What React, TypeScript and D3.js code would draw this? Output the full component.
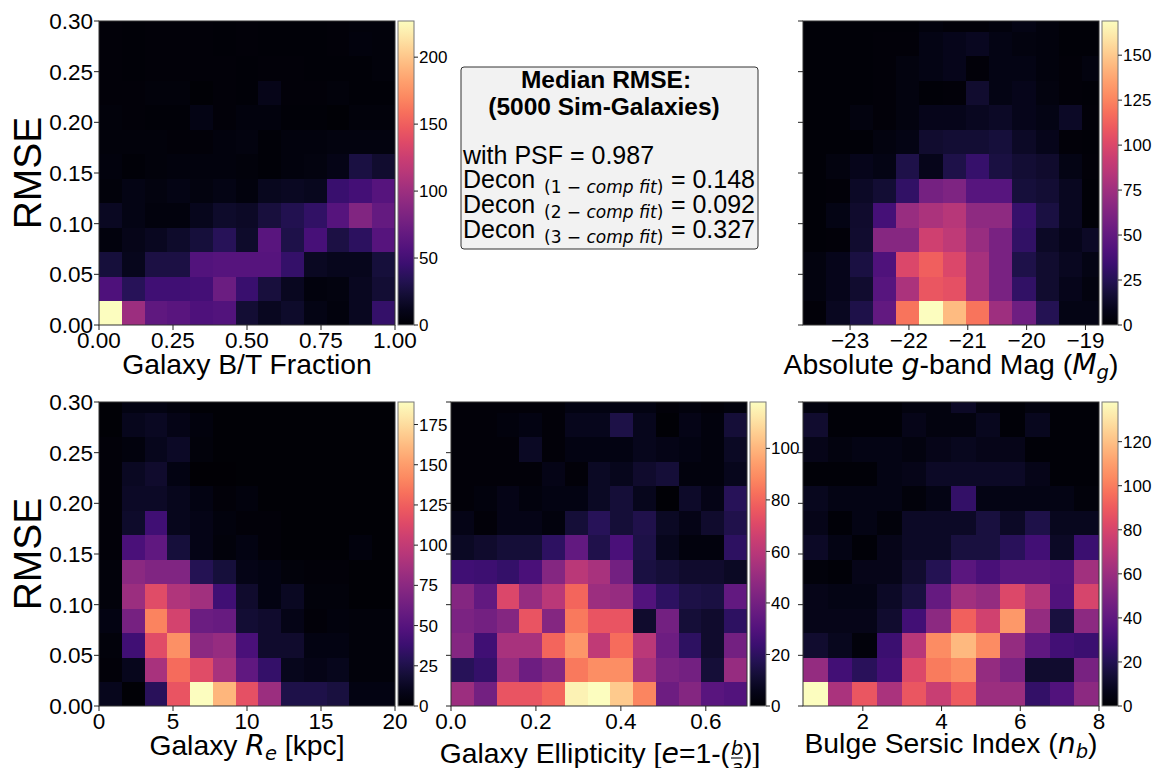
import React from 'react';
import * as d3 from 'd3';

// ---------- Data (rows listed bottom -> top, 13 RMSE bins of width 0.02418) ----------
const rmseBinWidth = 0.02418;
const rmseTicks = [0, 0.05, 0.1, 0.15, 0.2, 0.25, 0.3];
const rmseTickLabels = ['0.00', '0.05', '0.10', '0.15', '0.20', '0.25', '0.30'];

// Galaxy B/T fraction: 13 bins over [0, 1]
const btCounts = [
  [227, 100, 65, 62, 55, 58, 22, 14, 18, 8, 6, 14, 42],
  [55, 35, 48, 48, 50, 72, 45, 25, 14, 6, 7, 14, 22],
  [24, 12, 28, 28, 58, 60, 60, 60, 42, 15, 12, 12, 24],
  [6, 10, 14, 18, 24, 35, 18, 62, 30, 52, 28, 38, 60],
  [15, 8, 6, 6, 12, 18, 16, 25, 32, 40, 60, 85, 68],
  [5, 8, 7, 8, 7, 8, 6, 13, 15, 13, 45, 50, 60],
  [6, 3, 5, 6, 6, 6, 5, 3, 6, 7, 9, 27, 20],
  [5, 5, 5, 4, 4, 6, 7, 3, 6, 6, 7, 7, 7],
  [5, 4, 3, 3, 8, 4, 6, 6, 3, 3, 2, 5, 5],
  [4, 4, 5, 5, 2, 4, 3, 10, 4, 4, 5, 3, 3],
  [4, 3, 4, 4, 4, 4, 3, 4, 4, 3, 3, 3, 5],
  [4, 3, 4, 4, 4, 3, 4, 3, 3, 3, 4, 6, 5],
  [4, 3, 4, 4, 4, 3, 4, 3, 3, 3, 4, 5, 5],
];
const btTicks = [0, 0.25, 0.5, 0.75, 1.0];
const btTickLabels = ['0.00', '0.25', '0.50', '0.75', '1.00'];
const btCbTicks = [0, 50, 100, 150, 200];

// Absolute g-band magnitude: bins of 0.3955 mag starting at -23.80
const magCounts = [
  [3, 10, 22, 50, 120, 169, 145, 120, 75, 55, 25, 6, 6],
  [5, 8, 15, 45, 80, 108, 105, 78, 60, 30, 15, 8, 5],
  [5, 8, 20, 42, 100, 112, 100, 78, 60, 22, 15, 10, 6],
  [2, 3, 15, 65, 65, 95, 88, 72, 60, 30, 12, 8, 12],
  [2, 6, 14, 38, 72, 80, 85, 68, 68, 32, 20, 10, 2],
  [2, 3, 12, 16, 30, 58, 62, 45, 45, 18, 16, 10, 2],
  [2, 5, 8, 6, 22, 8, 22, 32, 20, 16, 14, 6, 3],
  [2, 2, 2, 5, 6, 15, 16, 16, 18, 12, 8, 3, 2],
  [2, 2, 5, 3, 5, 8, 8, 10, 12, 8, 6, 12, 3],
  [2, 2, 2, 3, 5, 2, 3, 15, 6, 8, 5, 3, 2],
  [2, 2, 2, 3, 5, 6, 8, 3, 6, 6, 4, 3, 5],
  [2, 2, 2, 3, 3, 6, 8, 10, 6, 5, 4, 2, 2],
  [2, 2, 2, 2, 2, 4, 3, 3, 4, 6, 4, 2, 2],
];
const magTicks = [-23, -22, -21, -20, -19];
const magTickLabels = ['\u221223', '\u221222', '\u221221', '\u221220', '\u221219'];
const magCbTicks = [0, 25, 50, 75, 100, 125, 150];

// Galaxy Re [kpc]: 13 bins over [0, 20]
const reCounts = [
  [10, 2, 30, 120, 189, 160, 118, 82, 25, 25, 22, 6, 6],
  [3, 10, 88, 130, 115, 88, 55, 35, 10, 8, 10, 4, 4],
  [4, 40, 115, 145, 75, 80, 45, 16, 16, 6, 6, 4, 4],
  [6, 65, 140, 108, 60, 58, 18, 16, 8, 3, 5, 4, 4],
  [4, 82, 115, 92, 85, 40, 16, 6, 12, 4, 4, 2, 2],
  [4, 75, 70, 70, 28, 20, 8, 6, 4, 3, 3, 2, 2],
  [3, 45, 55, 20, 8, 4, 6, 3, 2, 2, 2, 5, 2],
  [3, 15, 40, 10, 8, 5, 3, 3, 2, 2, 2, 2, 2],
  [3, 14, 14, 10, 6, 3, 5, 2, 2, 2, 2, 2, 2],
  [3, 12, 16, 6, 1, 1, 2, 2, 2, 2, 2, 2, 2],
  [3, 5, 10, 14, 4, 2, 2, 2, 2, 2, 2, 2, 2],
  [2, 10, 12, 8, 5, 2, 2, 2, 2, 2, 2, 2, 2],
  [2, 6, 6, 5, 2, 2, 2, 2, 2, 2, 2, 2, 2],
];
const reTicks = [0, 5, 10, 15, 20];
const reTickLabels = ['0', '5', '10', '15', '20'];
const reCbTicks = [0, 25, 50, 75, 100, 125, 150, 175];

// Galaxy ellipticity: 13 bins over [0, 0.697]
const ellCounts = [
  [52, 40, 75, 75, 80, 115, 118, 105, 88, 38, 45, 32, 30],
  [18, 22, 50, 38, 45, 85, 90, 90, 55, 42, 40, 12, 50],
  [45, 25, 55, 55, 80, 92, 62, 82, 60, 38, 20, 10, 40],
  [42, 40, 45, 75, 45, 85, 75, 75, 10, 40, 12, 10, 20],
  [45, 35, 70, 50, 60, 80, 52, 50, 30, 20, 15, 14, 35],
  [25, 24, 22, 28, 45, 60, 55, 40, 14, 12, 10, 10, 8],
  [8, 10, 12, 12, 20, 35, 16, 28, 15, 6, 3, 3, 20],
  [5, 2, 5, 5, 3, 12, 18, 12, 16, 8, 5, 10, 16],
  [2, 3, 5, 3, 4, 4, 8, 12, 6, 1, 9, 5, 18],
  [2, 2, 2, 2, 5, 2, 8, 6, 10, 12, 3, 3, 6],
  [2, 2, 2, 8, 2, 4, 4, 4, 6, 5, 4, 3, 8],
  [2, 2, 3, 4, 2, 6, 6, 15, 6, 1, 5, 3, 12],
  [2, 2, 2, 2, 2, 4, 4, 4, 4, 2, 3, 2, 3],
];
const ellTicks = [0, 0.2, 0.4, 0.6];
const ellTickLabels = ['0.0', '0.2', '0.4', '0.6'];
const ellCbTicks = [0, 20, 40, 60, 80, 100];

// Bulge Sersic index: 12 bins over [0.48, 8.0]
const nbCounts = [
  [138, 65, 88, 65, 88, 75, 90, 60, 60, 25, 35, 55],
  [58, 30, 22, 30, 82, 100, 105, 58, 50, 12, 12, 48],
  [12, 8, 3, 28, 70, 105, 118, 105, 58, 40, 30, 28],
  [6, 6, 6, 12, 30, 55, 92, 78, 108, 58, 16, 55],
  [6, 5, 5, 10, 16, 42, 62, 58, 82, 68, 35, 80],
  [3, 2, 6, 6, 12, 20, 38, 32, 38, 38, 36, 62],
  [10, 5, 2, 6, 10, 10, 16, 16, 22, 30, 10, 28],
  [6, 2, 5, 3, 10, 10, 10, 16, 10, 18, 8, 8],
  [8, 5, 5, 5, 3, 5, 25, 5, 5, 5, 5, 3],
  [2, 2, 2, 5, 6, 10, 10, 10, 10, 6, 2, 2],
  [6, 4, 5, 5, 4, 6, 8, 6, 6, 2, 2, 2],
  [12, 2, 2, 2, 6, 4, 4, 8, 2, 8, 2, 2],
  [4, 2, 2, 2, 4, 4, 10, 4, 2, 4, 2, 2],
];
const nbTicks = [2, 4, 6, 8];
const nbTickLabels = ['2', '4', '6', '8'];
const nbCbTicks = [0, 20, 40, 60, 80, 100, 120];

const boxTitle = ['Median RMSE:', '(5000 Sim-Galaxies)'];
const psfValue = '0.987';
const deconFits = ['1', '2', '3'];
const deconValues = ['0.148', '0.092', '0.327'];

// ---------- Styling / layout ----------
const SANS = '"Liberation Sans", Arial, Helvetica, sans-serif';
const MATH = '"DejaVu Sans", sans-serif';
const PW = 296;
const PH = 304;
const TICK_FS = 22.5;
const LABEL_FS = 28.3;
const SUB_FS = 19.5;

interface PanelDef {
  id: string;
  counts: number[][];
  xDomain: [number, number];
  xStart: number;
  xStep: number;
  ticks: number[];
  tickLabels: string[];
  cbTicks: number[];
  left: number;
  top: number;
  yLabels: boolean;
  rmseLabel: boolean;
  label: React.ReactNode;
  labelBaseline: number;
}

const TOP1 = 21;
const TOP2 = 402;

const panels: PanelDef[] = [
  {
    id: 'bt', counts: btCounts, xDomain: [0, 1], xStart: 0, xStep: 1 / 13,
    ticks: btTicks, tickLabels: btTickLabels, cbTicks: btCbTicks,
    left: 99, top: TOP1, yLabels: true, rmseLabel: true, labelBaseline: 374,
    label: <tspan>Galaxy B/T Fraction</tspan>,
  },
  {
    id: 'mag', counts: magCounts, xDomain: [-23.8, -18.77], xStart: -23.8, xStep: 0.3955,
    ticks: magTicks, tickLabels: magTickLabels, cbTicks: magCbTicks,
    left: 803, top: TOP1, yLabels: false, rmseLabel: false, labelBaseline: 374,
    label: (
      <>
        <tspan>Absolute </tspan>
        <tspan fontFamily={MATH} fontStyle="italic">g</tspan>
        <tspan>-band Mag (</tspan>
        <tspan fontFamily={MATH} fontStyle="italic">M</tspan>
        <tspan fontFamily={MATH} fontStyle="italic" fontSize={SUB_FS} dy="5">g</tspan>
        <tspan dy="-5">)</tspan>
      </>
    ),
  },
  {
    id: 're', counts: reCounts, xDomain: [0, 20], xStart: 0, xStep: 20 / 13,
    ticks: reTicks, tickLabels: reTickLabels, cbTicks: reCbTicks,
    left: 99, top: TOP2, yLabels: true, rmseLabel: true, labelBaseline: 755,
    label: (
      <>
        <tspan>Galaxy </tspan>
        <tspan fontFamily={MATH} fontStyle="italic">R</tspan>
        <tspan fontFamily={MATH} fontStyle="italic" fontSize={SUB_FS} dy="5">e</tspan>
        <tspan dy="-5"> [kpc]</tspan>
      </>
    ),
  },
  {
    id: 'ell', counts: ellCounts, xDomain: [0, 0.697], xStart: 0, xStep: 0.697 / 13,
    ticks: ellTicks, tickLabels: ellTickLabels, cbTicks: ellCbTicks,
    left: 451, top: TOP2, yLabels: false, rmseLabel: false, labelBaseline: 763,
    label: null,
  },
  {
    id: 'nb', counts: nbCounts, xDomain: [0.48, 8.0], xStart: 0.48, xStep: (8.0 - 0.48) / 12,
    ticks: nbTicks, tickLabels: nbTickLabels, cbTicks: nbCbTicks,
    left: 803, top: TOP2, yLabels: false, rmseLabel: false, labelBaseline: 753,
    label: (
      <>
        <tspan>Bulge Sersic Index (</tspan>
        <tspan fontFamily={MATH} fontStyle="italic">n</tspan>
        <tspan fontFamily={MATH} fontStyle="italic" fontSize={SUB_FS} dy="5">b</tspan>
        <tspan dy="-5">)</tspan>
      </>
    ),
  },
];

const magmaStops = d3.range(0, 1.0001, 0.05);

function Panel({ p }: { p: PanelDef }) {
  const x = d3.scaleLinear().domain(p.xDomain).range([p.left, p.left + PW]);
  const y = d3.scaleLinear().domain([0, 0.3]).range([p.top + PH, p.top]);
  const vmax = d3.max(p.counts.flat()) as number;
  const color = (v: number) => d3.interpolateMagma(v / vmax);
  const cbX = p.left + PW + 3;
  const cbW = 16;
  const cbScale = d3.scaleLinear().domain([0, vmax]).range([p.top + PH, p.top]);
  const bottom = p.top + PH;
  const clipId = `clip-${p.id}`;
  const gradId = `grad-${p.id}`;
  const cells: React.ReactNode[] = [];
  p.counts.forEach((row, ri) => {
    row.forEach((v, ci) => {
      const x0 = x(p.xStart + ci * p.xStep);
      const x1 = x(p.xStart + (ci + 1) * p.xStep);
      const y0 = y(ri * rmseBinWidth);
      const y1 = y((ri + 1) * rmseBinWidth);
      cells.push(
        <rect key={`${ri}-${ci}`} x={x0} y={y1} width={x1 - x0 + 0.6} height={y0 - y1 + 0.6} fill={color(v)} />
      );
    });
  });
  return (
    <g>
      <defs>
        <clipPath id={clipId}>
          <rect x={p.left} y={p.top} width={PW} height={PH} />
        </clipPath>
        <linearGradient id={gradId} x1="0" y1="1" x2="0" y2="0">
          {magmaStops.map((t) => (
            <stop key={t} offset={t} stopColor={d3.interpolateMagma(t)} />
          ))}
        </linearGradient>
      </defs>
      <g clipPath={`url(#${clipId})`} shapeRendering="crispEdges">{cells}</g>
      <rect x={p.left} y={p.top} width={PW} height={PH} fill="none" stroke="#333" strokeWidth={1} />
      {/* y ticks */}
      {rmseTicks.map((t, i) => (
        <g key={`yt${i}`}>
          <line x1={p.left - 5} x2={p.left} y1={y(t)} y2={y(t)} stroke="#222" strokeWidth={1} />
          {p.yLabels && (
            <text x={p.left - 6} y={y(t)} dy="0.36em" textAnchor="end" fontFamily={SANS} fontSize={TICK_FS} fill="#000">
              {rmseTickLabels[i]}
            </text>
          )}
        </g>
      ))}
      {/* x ticks */}
      {p.ticks.map((t, i) => (
        <g key={`xt${i}`}>
          <line x1={x(t)} x2={x(t)} y1={bottom} y2={bottom + 5} stroke="#222" strokeWidth={1} />
          <text x={x(t)} y={bottom + 23} textAnchor="middle" fontFamily={SANS} fontSize={TICK_FS} fill="#000">
            {p.tickLabels[i]}
          </text>
        </g>
      ))}
      {/* colorbar */}
      <rect x={cbX} y={p.top} width={cbW} height={PH} fill={`url(#${gradId})`} stroke="#777" strokeWidth={1} />
      {p.cbTicks.map((t) => (
        <g key={`cb${t}`}>
          <line x1={cbX + cbW} x2={cbX + cbW + 4} y1={cbScale(t)} y2={cbScale(t)} stroke="#222" strokeWidth={1} />
          <text x={cbX + cbW + 5} y={cbScale(t)} dy="0.36em" fontFamily={SANS} fontSize={17} fill="#000">
            {t}
          </text>
        </g>
      ))}
      {p.rmseLabel && (
        <text
          transform={`translate(41, ${p.top + PH / 2}) rotate(-90)`}
          textAnchor="middle"
          fontFamily={SANS}
          fontSize={39}
          fill="#000"
        >
          RMSE
        </text>
      )}
      {p.label && (
        <text x={p.left + PW / 2} y={p.labelBaseline} textAnchor="middle" fontFamily={SANS} fontSize={LABEL_FS} fill="#000">
          {p.label}
        </text>
      )}
    </g>
  );
}

function EllipticityLabel() {
  // "Galaxy Ellipticity [e=1-(b/a)]" with a stacked fraction (bottom half runs off the figure, as in the original)
  const base = 763;
  const fx = 737;
  return (
    <g fontFamily={SANS} fontSize={LABEL_FS} fill="#000">
      <text x={fx - 7} y={base} textAnchor="end">
        <tspan>Galaxy Ellipticity [</tspan>
        <tspan fontFamily={MATH} fontStyle="italic">e</tspan>
        <tspan>=1-(</tspan>
      </text>
      <text x={fx} y={base - 8} fontFamily={MATH} fontStyle="italic" fontSize={19} textAnchor="middle">b</text>
      <line x1={fx - 6} x2={fx + 6} y1={base - 5} y2={base - 5} stroke="#000" strokeWidth={1.1} />
      <text x={fx} y={base + 11} fontFamily={MATH} fontStyle="italic" fontSize={19} textAnchor="middle">a</text>
      <text x={fx + 6} y={base}>)]</text>
    </g>
  );
}

function InfoBox() {
  const bx = 461;
  const by = 67;
  const bw = 297;
  const bh = 182;
  const lx = 463;
  const rx = 755;
  return (
    <g>
      <rect x={bx} y={by} width={bw} height={bh} rx={3} ry={3} fill="#f2f2f2" stroke="#333" strokeWidth={1} />
      <text x={606} y={88} textAnchor="middle" fontFamily={SANS} fontWeight="bold" fontSize={24.5} fill="#000">
        {boxTitle[0]}
      </text>
      <text x={604} y={115} textAnchor="middle" fontFamily={SANS} fontWeight="bold" fontSize={24.5} fill="#000">
        {boxTitle[1]}
      </text>
      <text x={lx} y={164} fontFamily={SANS} fontSize={25} fill="#000">
        {`with PSF = ${psfValue}`}
      </text>
      {deconFits.map((f, i) => {
        const base = 188 + i * 25;
        return (
          <g key={f}>
            <text x={lx} y={base} fontFamily={SANS} fontSize={25} fill="#000">Decon</text>
            <text x={544} y={base + 4.5} fontFamily={MATH} fontSize={17} fill="#000">
              <tspan>{`(${f} \u2212 `}</tspan>
              <tspan fontStyle="italic">comp fit</tspan>
              <tspan>)</tspan>
            </text>
            <text x={rx} y={base} textAnchor="end" fontFamily={SANS} fontSize={25} fill="#000">
              {`= ${deconValues[i]}`}
            </text>
          </g>
        );
      })}
    </g>
  );
}

export default function App() {
  return (
    <svg
      width={1156}
      height={768}
      viewBox="0 0 1156 768"
      style={{ position: 'absolute', left: 0, top: 0, display: 'block', background: '#fff' }}
    >
      <rect x={0} y={0} width={1156} height={768} fill="#fff" />
      {panels.map((p) => (
        <Panel key={p.id} p={p} />
      ))}
      <EllipticityLabel />
      <InfoBox />
    </svg>
  );
}
